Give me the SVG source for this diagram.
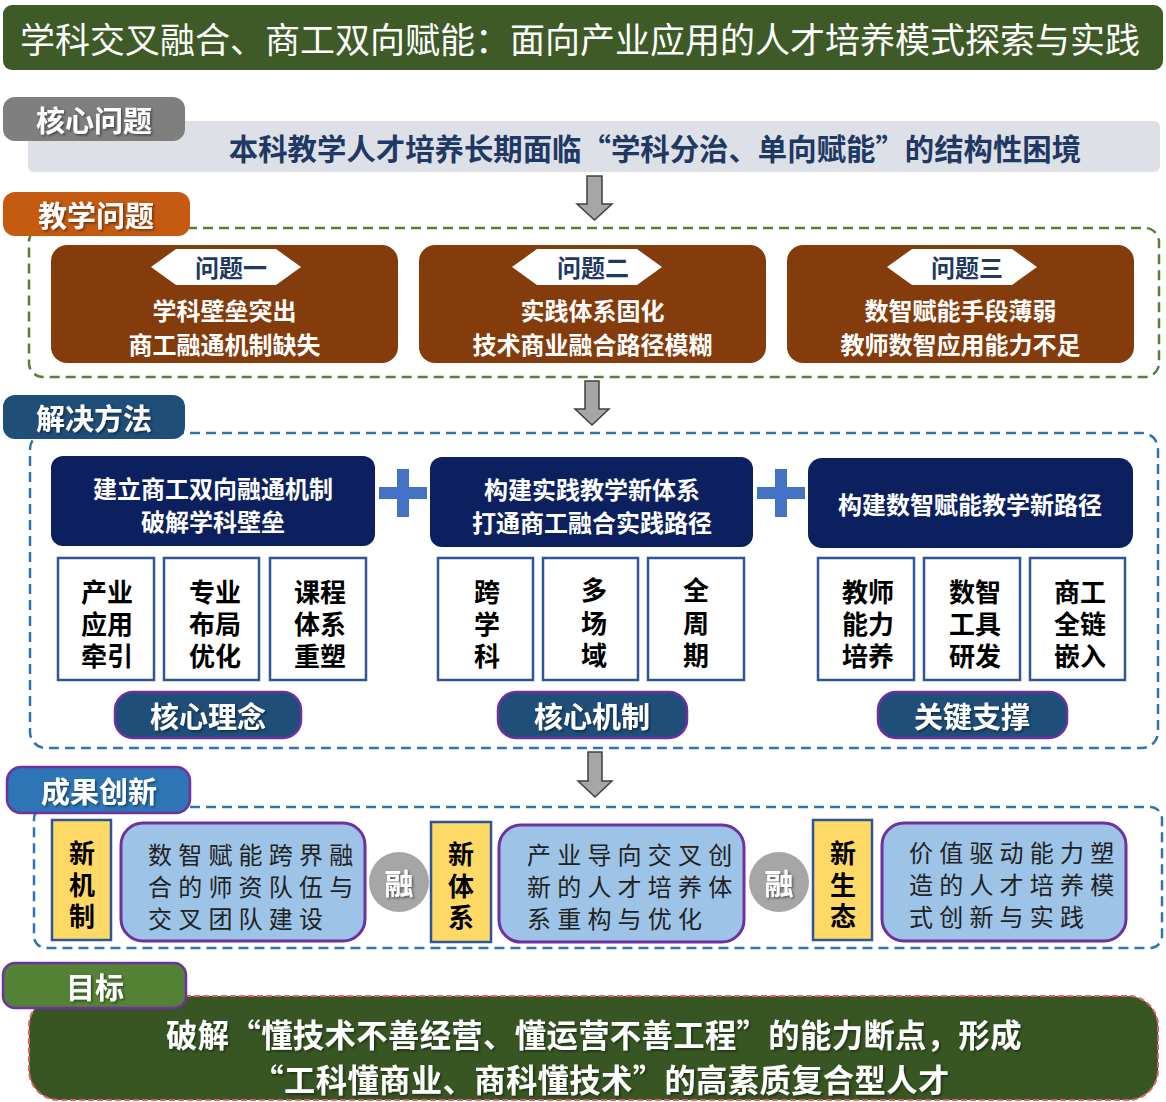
<svg xmlns="http://www.w3.org/2000/svg" width="1166" height="1102" viewBox="0 0 1166 1102">
<defs>
<style>
text{font-family:"Noto Sans CJK SC","Noto Sans",sans-serif;dominant-baseline:central;text-anchor:middle}
.b{font-weight:700}
.w{fill:#fff}
.lab{font-size:29px;font-weight:700;fill:#fff;filter:url(#ts)}
.prob{fill:#843c0c}
.hex{fill:#fff}
.hext{font-size:24px;font-weight:700;fill:#1f3864}
.pt{font-size:24px;font-weight:700;fill:#fff}
.nav{fill:#0c1f5e}
.nt{font-size:24px;font-weight:700;fill:#fff}
.sub{fill:#fff;stroke:#2f5597;stroke-width:2.5}
.st{font-size:26px;font-weight:700;fill:#000}
.pill{fill:#1f4e79;stroke:#7030a0;stroke-width:2.5}
.plus{fill:#4472c4}
.yel{fill:#ffd966;stroke:#2f5597;stroke-width:2.5}
.yt{font-size:26px;font-weight:700;fill:#000}
.lb{fill:#9dc3e6;stroke:#7030a0;stroke-width:3}
.lbt{font-size:24px;fill:#222;text-anchor:start;letter-spacing:6.2px}
.circ{fill:#a6a6a6}
.arrow{fill:#a6a6a6;stroke:#404040;stroke-width:1.5}
.dashg{fill:none;stroke:#548235;stroke-width:2.5;stroke-dasharray:10 6}
.dashb{fill:none;stroke:#2e75b6;stroke-width:2.5;stroke-dasharray:10 6}
.goalt{font-size:31.3px;font-weight:700;fill:#fff;letter-spacing:0.4px;filter:url(#ts)}
</style>
<filter id="ts" x="-10%" y="-10%" width="130%" height="140%"><feDropShadow dx="1.5" dy="1.5" stdDeviation="1" flood-color="#000" flood-opacity="0.45"/></filter>
</defs>

<g id="title">
<rect x="3" y="5" width="1160" height="65" rx="9" fill="#3d5a27"/>
<text x="580" y="37" font-size="35" class="w">学科交叉融合、商工双向赋能：面向产业应用的人才培养模式探索与实践</text>
</g>

<g id="core-problem">
<rect x="28" y="121" width="1132" height="51" rx="6" fill="#dde0e6"/>
<rect x="3" y="97" width="182" height="44" rx="12" fill="#7f7f7f"/>
<text x="94" y="119" class="lab">核心问题</text>
<text x="655" y="147" font-size="29.4" class="b" fill="#1f3864">本科教学人才培养长期面临“学科分治、单向赋能”的结构性困境</text>
</g>

<g id="connectors">
<path class="arrow" d="M587,176 H602 V204 H612 L594.5,220 L577,204 H587 Z"/>
<path class="arrow" d="M585,381 H599 V409 H609 L592,425 L575,409 H585 Z"/>
<path class="arrow" d="M588,752 H602 V781 H612 L595,797 L578,781 H588 Z"/>
<g id="plus1"><rect class="plus" x="379" y="487" width="48" height="12"/><rect class="plus" x="397" y="469" width="12" height="48"/></g>
<g id="plus2"><rect class="plus" x="757" y="487" width="48" height="12"/><rect class="plus" x="775" y="469" width="12" height="48"/></g>
</g>

<g id="teaching-problems">
<rect class="dashg" x="29" y="228" width="1130" height="149" rx="14"/>
<rect x="3" y="192" width="187" height="44" rx="12" fill="#c55a11"/>
<text x="96" y="214" class="lab">教学问题</text>
</g>

<g id="problem1">
<rect class="prob" x="51" y="245" width="347" height="118" rx="16"/>
<polygon class="hex" points="151,267 176,249 276,249 301,267 276,285 176,285"/>
<text x="231" y="266" class="hext">问题一</text>
<text class="pt"><tspan x="224.5" y="309">学科壁垒突出</tspan><tspan x="224.5" y="343">商工融通机制缺失</tspan></text>
</g>
<g id="problem2">
<rect class="prob" x="419" y="245" width="347" height="118" rx="16"/>
<polygon class="hex" points="512,267 537,249 637,249 662,267 637,285 537,285"/>
<text x="593" y="266" class="hext">问题二</text>
<text class="pt"><tspan x="592.5" y="309">实践体系固化</tspan><tspan x="592.5" y="343">技术商业融合路径模糊</tspan></text>
</g>
<g id="problem3">
<rect class="prob" x="787" y="245" width="347" height="118" rx="16"/>
<polygon class="hex" points="887,267 912,249 1012,249 1037,267 1012,285 912,285"/>
<text x="967" y="266" class="hext">问题三</text>
<text class="pt"><tspan x="960.5" y="309">数智赋能手段薄弱</tspan><tspan x="960.5" y="343">教师数智应用能力不足</tspan></text>
</g>

<g id="solutions">
<rect class="dashb" x="30" y="433" width="1128" height="315" rx="16"/>
<rect x="3" y="395" width="182" height="44" rx="12" fill="#1f4e79"/>
<text x="94" y="417" class="lab">解决方法</text>
</g>

<g id="method1">
<rect class="nav" x="51" y="456" width="324" height="90" rx="12"/>
<text class="nt"><tspan x="213" y="487">建立商工双向融通机制</tspan><tspan x="213" y="520">破解学科壁垒</tspan></text>
<rect class="sub" x="58" y="558" width="96" height="122"/>
<text class="st"><tspan x="107" y="590">产业</tspan><tspan x="107" y="622">应用</tspan><tspan x="107" y="654">牵引</tspan></text>
<rect class="sub" x="164" y="558" width="95" height="122"/>
<text class="st"><tspan x="215" y="590">专业</tspan><tspan x="215" y="622">布局</tspan><tspan x="215" y="654">优化</tspan></text>
<rect class="sub" x="270" y="558" width="96" height="122"/>
<text class="st"><tspan x="320" y="590">课程</tspan><tspan x="320" y="622">体系</tspan><tspan x="320" y="654">重塑</tspan></text>
<rect class="pill" x="115" y="692" width="186" height="46" rx="18"/>
<text x="208" y="715" class="lab">核心理念</text>
</g>

<g id="method2">
<rect class="nav" x="430" y="457" width="323" height="90" rx="12"/>
<text class="nt"><tspan x="592" y="488">构建实践教学新体系</tspan><tspan x="592" y="521">打通商工融合实践路径</tspan></text>
<rect class="sub" x="438" y="558" width="95" height="122"/>
<text class="st"><tspan x="487" y="590">跨</tspan><tspan x="487" y="622">学</tspan><tspan x="487" y="654">科</tspan></text>
<rect class="sub" x="543" y="558" width="95" height="122"/>
<text class="st"><tspan x="594" y="588">多</tspan><tspan x="594" y="621">场</tspan><tspan x="594" y="653">域</tspan></text>
<rect class="sub" x="648" y="558" width="96" height="122"/>
<text class="st"><tspan x="696" y="588">全</tspan><tspan x="696" y="621">周</tspan><tspan x="696" y="653">期</tspan></text>
<rect class="pill" x="498" y="692" width="189" height="46" rx="18"/>
<text x="592" y="715" class="lab">核心机制</text>
</g>

<g id="method3">
<rect class="nav" x="808" y="458" width="325" height="90" rx="14"/>
<text x="970" y="503" class="nt">构建数智赋能教学新路径</text>
<rect class="sub" x="818" y="558" width="96" height="122"/>
<text class="st"><tspan x="868" y="590">教师</tspan><tspan x="868" y="622">能力</tspan><tspan x="868" y="654">培养</tspan></text>
<rect class="sub" x="924" y="558" width="96" height="122"/>
<text class="st"><tspan x="975" y="590">数智</tspan><tspan x="975" y="622">工具</tspan><tspan x="975" y="654">研发</tspan></text>
<rect class="sub" x="1030" y="558" width="95" height="122"/>
<text class="st"><tspan x="1080" y="590">商工</tspan><tspan x="1080" y="622">全链</tspan><tspan x="1080" y="654">嵌入</tspan></text>
<rect class="pill" x="878" y="692" width="189" height="46" rx="18"/>
<text x="972" y="715" class="lab">关键支撑</text>
</g>

<g id="achievements">
<rect class="dashb" x="34" y="807" width="1128" height="141" rx="12"/>
<rect x="7" y="767" width="183" height="46" rx="14" fill="#2e75b6" stroke="#7030a0" stroke-width="2.5"/>
<text x="99" y="790" class="lab">成果创新</text>
</g>

<g id="new-mechanism">
<rect class="yel" x="52" y="820" width="59" height="120"/>
<text class="yt"><tspan x="82" y="851">新</tspan><tspan x="82" y="883">机</tspan><tspan x="82" y="914">制</tspan></text>
<rect class="lb" x="121" y="823" width="244" height="118" rx="22"/>
<text class="lbt"><tspan x="148" y="853">数智赋能跨界融</tspan><tspan x="148" y="885">合的师资队伍与</tspan><tspan x="148" y="917">交叉团队建设</tspan></text>
</g>
<g id="fuse1">
<circle class="circ" cx="399" cy="882" r="30"/>
<text x="399" y="882" class="lab" font-size="26">融</text>
</g>
<g id="new-system">
<rect class="yel" x="431" y="822" width="60" height="120"/>
<text class="yt"><tspan x="461" y="852">新</tspan><tspan x="461" y="884">体</tspan><tspan x="461" y="915">系</tspan></text>
<rect class="lb" x="499" y="825" width="245" height="117" rx="22"/>
<text class="lbt"><tspan x="527" y="853">产业导向交叉创</tspan><tspan x="527" y="885">新的人才培养体</tspan><tspan x="527" y="917">系重构与优化</tspan></text>
</g>
<g id="fuse2">
<circle class="circ" cx="779" cy="882" r="30"/>
<text x="779" y="882" class="lab" font-size="26">融</text>
</g>
<g id="new-ecology">
<rect class="yel" x="813" y="820" width="59" height="120"/>
<text class="yt"><tspan x="843" y="851">新</tspan><tspan x="843" y="883">生</tspan><tspan x="843" y="914">态</tspan></text>
<rect class="lb" x="882" y="823" width="244" height="118" rx="22"/>
<text class="lbt"><tspan x="909" y="851">价值驱动能力塑</tspan><tspan x="909" y="883">造的人才培养模</tspan><tspan x="909" y="915">式创新与实践</tspan></text>
</g>

<g id="goal">
<rect x="29" y="996" width="1129" height="104" rx="30" fill="#375623" stroke="#e0606e" stroke-width="2" stroke-dasharray="6 3"/>
<rect x="3" y="963" width="183" height="45" rx="12" fill="#548235" stroke="#7030a0" stroke-width="2.5"/>
<text x="95" y="986" class="lab">目标</text>
<text class="goalt"><tspan x="594" y="1033">破解“懂技术不善经营、懂运营不善工程”的能力断点，形成</tspan><tspan x="601" y="1078">“工科懂商业、商科懂技术”的高素质复合型人才</tspan></text>
</g>
</svg>
